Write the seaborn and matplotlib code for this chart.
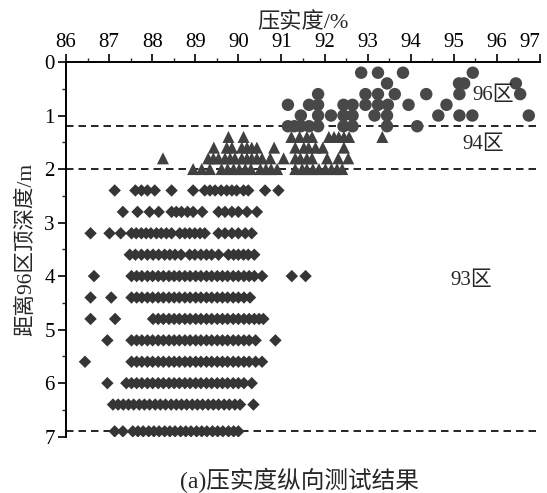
import numpy as np
import pandas as pd
import matplotlib
matplotlib.use("Agg")
import matplotlib.pyplot as plt
import seaborn as sns
from matplotlib.ticker import MultipleLocator

# ---- data (compaction %, depth m) ----
# 96 zone (circles), rows by depth
c_02 = [92.85, 93.24, 93.82, 95.44]
c_04 = [93.45, 95.12, 95.24, 96.44]
c_06 = [91.85, 92.95, 93.24, 93.63, 94.36, 95.13, 96.54]
c_08 = [91.15, 91.64, 91.85, 92.44, 92.65, 92.95, 93.24, 93.47, 93.95, 94.83]
c_10 = [91.45, 91.85, 92.15, 92.44, 92.65, 93.16, 93.45, 94.64, 95.13, 95.43, 96.74]
c_12 = [91.15, 91.30, 91.45, 91.64, 91.85, 92.44, 92.65, 93.45, 94.15]
# 94 zone (triangles)
t_14 = [89.77, 90.12, 91.23, 91.42, 91.59, 91.71, 92.10, 92.22, 92.33, 92.45, 92.57, 93.34]
t_16 = [89.43, 89.73, 89.85, 90.08, 90.20, 90.31, 90.43, 90.83, 91.32, 91.52, 91.63, 91.79, 91.96, 92.45]
t_18 = [88.25, 89.30, 89.42, 89.54, 89.69, 89.81, 89.92, 90.08, 90.20, 90.31, 90.43, 90.55,
        90.74, 91.05, 91.32, 91.44, 91.59, 91.71, 92.06, 92.32, 92.55]
t_20 = [88.95, 89.15, 89.34, 89.61, 89.75, 89.89, 90.02, 90.16, 90.29, 90.51, 90.64, 90.76, 90.90,
        91.32, 91.48, 91.59, 91.73, 91.87, 92.02, 92.16, 92.29, 92.41]
# 93 zone (diamonds)
d_24 = [87.13, 87.61, 87.75, 87.89, 88.06, 88.45, 88.95, 89.22, 89.34, 89.46, 89.60, 89.73, 89.85,
        89.96, 90.12, 90.23, 90.62, 90.93]
d_28 = [87.32, 87.66, 87.94, 88.15, 88.45, 88.56, 88.68, 88.82, 88.95, 89.16, 89.54, 89.69, 89.85,
        90.00, 90.20, 90.43]
d_32 = [86.57, 87.01, 87.27, 87.52, 87.63, 87.75, 87.86, 87.97, 88.10, 88.21, 88.33, 88.45, 88.64,
        88.76, 88.87, 88.99, 89.11, 89.22, 89.54, 89.69, 89.85, 90.00, 90.16, 90.31]
d_36 = [87.48, 87.61, 87.75, 87.89, 88.02, 88.15, 88.29, 88.41, 88.53, 88.67, 88.87, 88.99, 89.13,
        89.26, 89.38, 89.54, 89.77, 89.89, 90.00, 90.12, 90.23, 90.37]
d_40 = [86.65, 87.52, 87.64, 87.76, 87.89, 88.01, 88.14, 88.26, 88.39, 88.51, 88.63, 88.76, 88.88,
        89.01, 89.13, 89.26, 89.38, 89.51, 89.63, 89.75, 89.88, 90.00, 90.13, 90.25, 90.37, 90.55,
        91.24, 91.56]
d_44 = [86.57, 87.05, 87.52, 87.64, 87.76, 87.89, 88.01, 88.14, 88.26, 88.39, 88.51, 88.63, 88.76,
        88.88, 89.01, 89.13, 89.26, 89.38, 89.51, 89.63, 89.75, 89.88, 90.00, 90.13, 90.27]
d_48 = [86.57, 87.14, 88.02, 88.14, 88.26, 88.39, 88.51, 88.63, 88.76, 88.88, 89.01, 89.13, 89.26,
        89.38, 89.51, 89.63, 89.75, 89.88, 90.00, 90.13, 90.25, 90.37, 90.48, 90.58]
d_52 = [86.96, 87.52, 87.64, 87.76, 87.89, 88.01, 88.14, 88.26, 88.39, 88.51, 88.63, 88.76, 88.88,
        89.01, 89.13, 89.26, 89.38, 89.51, 89.63, 89.75, 89.88, 90.00, 90.13, 90.25, 90.40, 90.86]
d_56 = [86.44, 87.52, 87.64, 87.76, 87.89, 88.01, 88.14, 88.26, 88.39, 88.51, 88.63, 88.76, 88.88,
        89.01, 89.13, 89.26, 89.38, 89.51, 89.63, 89.75, 89.88, 90.00, 90.13, 90.25, 90.40, 90.55]
d_60 = [86.96, 87.40, 87.52, 87.64, 87.76, 87.89, 88.01, 88.14, 88.26, 88.39, 88.51, 88.63, 88.76,
        88.88, 89.01, 89.13, 89.26, 89.38, 89.51, 89.63, 89.75, 89.88, 90.00, 90.13, 90.31]
d_64 = [87.09, 87.21, 87.33, 87.45, 87.57, 87.70, 87.82, 87.94, 88.07, 88.19, 88.31, 88.44, 88.56,
        88.68, 88.80, 88.93, 89.05, 89.17, 89.30, 89.42, 89.54, 89.67, 89.79, 89.92, 90.04, 90.35]
d_69 = [87.13, 87.32, 87.55, 87.67, 87.79, 87.92, 88.04, 88.16, 88.29, 88.41, 88.53, 88.66, 88.78,
        88.90, 89.03, 89.15, 89.27, 89.40, 89.52, 89.64, 89.77, 89.89, 90.00]

circle_rows = {0.2: c_02, 0.4: c_04, 0.6: c_06, 0.8: c_08, 1.0: c_10, 1.2: c_12}
triangle_rows = {1.4: t_14, 1.6: t_16, 1.8: t_18, 2.0: t_20}
diamond_rows = {2.4: d_24, 2.8: d_28, 3.2: d_32, 3.6: d_36, 4.0: d_40, 4.4: d_44, 4.8: d_48,
                5.2: d_52, 5.6: d_56, 6.0: d_60, 6.4: d_64, 6.9: d_69}

zone_boundaries = [1.2, 2.0, 6.9]
x_ticks = list(range(86, 98))
y_ticks = list(range(0, 8))

records = []
for zone, rows in [("96区", circle_rows), ("94区", triangle_rows), ("93区", diamond_rows)]:
    for depth, xs in rows.items():
        for xv in xs:
            records.append({"compaction": xv, "depth": depth, "zone": zone})
df = pd.DataFrame(records)

# ---- style ----
sns.set_style("ticks")
plt.rcParams["font.family"] = ["Liberation Serif", "Noto Sans CJK SC"]
plt.rcParams["axes.unicode_minus"] = False

fig = plt.figure(figsize=(5.47, 4.93), dpi=100)
ax = fig.add_axes([66 / 547, 1 - 436.7 / 493, (540 - 66) / 547, (436.7 - 62.0) / 493])

size_map = {"96区": 80, "94区": 75, "93区": 40}
marker_map = {"96区": "o", "94区": "^", "93区": "D"}
color_map = {"96区": "#484848", "94区": "#404040", "93区": "#353535"}
for zone in ["96区", "94区", "93区"]:
    sub = df[df["zone"] == zone]
    sns.scatterplot(data=sub, x="compaction", y="depth", marker=marker_map[zone],
                    s=size_map[zone], color=color_map[zone], edgecolor="none", linewidth=0,
                    ax=ax, legend=False, zorder=3)

for yb in zone_boundaries:
    ax.axhline(yb, color="black", lw=1.2, ls=(0, (4.5, 3)), zorder=2)

ax.set_xlim(86, 97)
ax.set_ylim(7, 0)
ax.xaxis.tick_top()
ax.xaxis.set_label_position("top")
ax.set_xticks(x_ticks)
ax.set_yticks(y_ticks)
ax.xaxis.set_minor_locator(MultipleLocator(0.5))
ax.yaxis.set_minor_locator(MultipleLocator(0.5))
ax.tick_params(axis="both", which="major", direction="out", length=6, width=1.2,
               labelsize=15, colors="black")
ax.tick_params(axis="both", which="minor", direction="out", length=3, width=1.0)
ax.tick_params(axis="x", which="both", top=True, bottom=False, pad=1)
ax.tick_params(axis="y", which="both", left=True, right=False, pad=2)
for side in ["bottom", "right"]:
    ax.spines[side].set_visible(False)
for side in ["top", "left"]:
    ax.spines[side].set_linewidth(1.4)
    ax.spines[side].set_color("black")
ax.get_xticklabels()[-1].set_ha("right")

ax.set_xlabel("压实度/%", fontsize=16, labelpad=3.5)
ax.set_ylabel("距离96区顶深度/m", fontsize=15.5, labelpad=6)

ax.text(95.44, 0.63, "96区", fontsize=15, va="center", ha="left")
ax.text(95.19, 1.55, "94区", fontsize=15, va="center", ha="left")
ax.text(94.92, 4.09, "93区", fontsize=15, va="center", ha="left")

fig.text(0.548, 0.026, "(a)压实度纵向测试结果", fontsize=17, ha="center", va="center")

fig.savefig("out.png", dpi=100)
